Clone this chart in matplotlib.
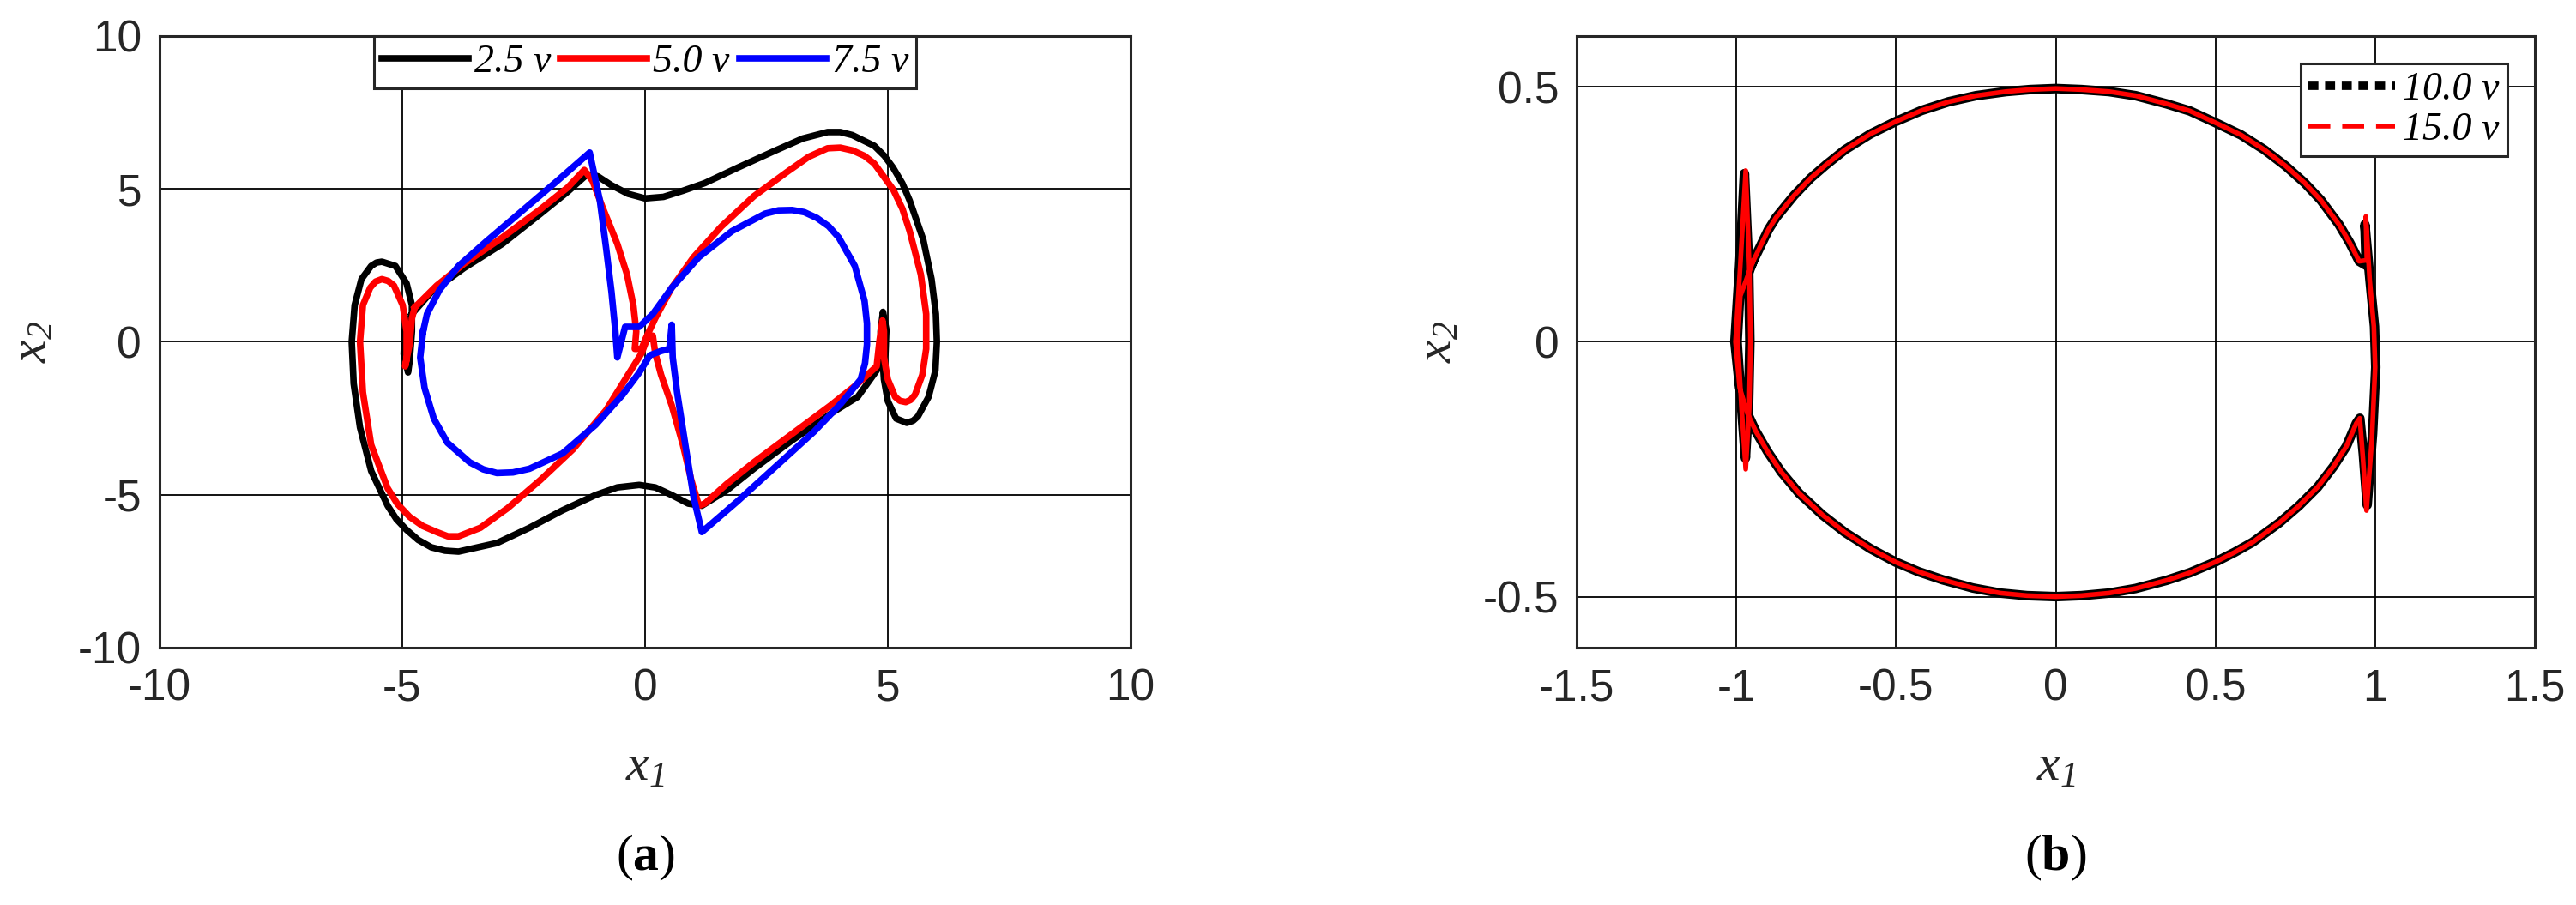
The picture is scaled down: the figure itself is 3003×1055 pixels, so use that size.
import matplotlib
matplotlib.use("Agg")
from matplotlib import pyplot as plt
from matplotlib.lines import Line2D

plt.rcParams["font.family"] = "Liberation Sans"
plt.rcParams["axes.unicode_minus"] = False
plt.rcParams["lines.solid_joinstyle"] = "round"
plt.rcParams["mathtext.fontset"] = "custom"
plt.rcParams["mathtext.rm"] = "Liberation Serif:italic"
plt.rcParams["mathtext.it"] = "Liberation Serif:italic"
plt.rcParams["mathtext.bf"] = "Liberation Serif:bold"
plt.rcParams["mathtext.sf"] = "Liberation Serif"

# ---- (a) phase portraits (x1, x2) ----
pts_25 = [(-4.80, 0.91), (-4.40, 1.63), (-3.73, 2.41), (-2.94, 3.20), (-2.15, 4.19),
          (-1.59, 4.91), (-1.19, 5.48), (-0.97, 5.41), (-0.69, 5.12), (-0.35, 4.84),
          (0.00, 4.69), (0.38, 4.74), (0.78, 4.94), (1.23, 5.19), (1.90, 5.69),
          (2.69, 6.26), (3.25, 6.65), (3.76, 6.86), (4.02, 6.86), (4.27, 6.76),
          (4.72, 6.41), (4.93, 6.08), (5.11, 5.69), (5.30, 5.18), (5.45, 4.62),
          (5.73, 3.34), (5.90, 2.05), (5.99, 0.91), (6.01, 0.00), (5.98, -0.94),
          (5.84, -1.80), (5.62, -2.44), (5.52, -2.58), (5.39, -2.65), (5.17, -2.51),
          (5.00, -1.94), (4.92, -1.23), (4.89, -0.51), (4.85, 0.34), (4.90, 0.98),
          (4.97, 0.40), (4.95, -0.40), (4.77, -0.94), (4.38, -1.80), (3.87, -2.30),
          (3.03, -3.22), (2.24, -4.15), (1.68, -4.86), (1.17, -5.36), (0.89, -5.29),
          (0.55, -5.01), (0.21, -4.76), (-0.12, -4.68), (-0.57, -4.76), (-1.02, -5.01),
          (-1.70, -5.51), (-2.38, -6.08), (-3.05, -6.58), (-3.84, -6.86), (-4.12, -6.83),
          (-4.40, -6.72), (-4.67, -6.48), (-4.91, -6.15), (-5.12, -5.80), (-5.30, -5.36),
          (-5.64, -4.22), (-5.87, -2.80), (-6.00, -1.37), (-6.04, 0.00), (-5.98, 1.20),
          (-5.84, 2.05), (-5.64, 2.48), (-5.53, 2.59), (-5.42, 2.62), (-5.14, 2.48),
          (-4.91, 1.91), (-4.80, 1.20), (-4.80, 0.34), (-4.85, -0.66), (-4.88, -1.00),
          (-4.97, -0.40), (-4.95, 0.40), (-4.80, 0.91)]

pts_50 = [(-4.74, 1.13), (-4.29, 1.84), (-3.73, 2.55), (-2.94, 3.41), (-2.15, 4.34),
          (-1.59, 5.05), (-1.25, 5.62), (-1.08, 5.26), (-0.86, 4.34), (-0.57, 3.20),
          (-0.37, 2.20), (-0.24, 1.20), (-0.18, 0.34), (-0.21, -0.23), (-0.07, -0.23),
          (0.00, 0.06), (0.21, 0.77), (0.55, 1.77), (1.00, 2.77), (1.57, 3.77),
          (2.24, 4.76), (2.92, 5.55), (3.37, 6.05), (3.76, 6.33), (4.02, 6.35),
          (4.27, 6.26), (4.52, 6.08), (4.72, 5.83), (5.11, 4.98), (5.30, 4.35),
          (5.45, 3.62), (5.68, 2.20), (5.79, 0.91), (5.79, -0.23), (5.71, -1.08),
          (5.56, -1.73), (5.47, -1.90), (5.37, -1.97), (5.25, -1.93), (5.15, -1.80),
          (5.00, -1.23), (4.92, -0.51), (4.92, 0.34), (4.89, 0.70), (4.83, 0.06),
          (4.77, -0.80), (4.38, -1.37), (3.82, -2.08), (3.03, -3.01), (2.24, -3.94),
          (1.68, -4.65), (1.23, -5.29), (1.11, -5.36), (0.95, -4.51), (0.78, -3.37),
          (0.55, -2.08), (0.33, -1.08), (0.21, -0.37), (0.16, 0.20), (0.05, 0.13),
          (-0.07, -0.37), (-0.35, -1.08), (-0.80, -2.23), (-1.48, -3.51), (-2.15, -4.51),
          (-2.83, -5.44), (-3.39, -6.08), (-3.84, -6.36), (-4.06, -6.36), (-4.29, -6.22),
          (-4.58, -6.02), (-4.85, -5.72), (-5.10, -5.30), (-5.30, -4.79), (-5.64, -3.37),
          (-5.81, -1.65), (-5.87, 0.00), (-5.81, 1.20), (-5.66, 1.77), (-5.55, 1.97),
          (-5.42, 2.05), (-5.29, 1.99), (-5.17, 1.84), (-4.99, 1.20), (-4.91, 0.34),
          (-4.91, -0.58), (-4.94, -0.80), (-4.85, -0.09), (-4.80, 0.77), (-4.74, 1.13)]

pts_75 = [(-4.57, 0.34), (-4.63, -0.51), (-4.54, -1.51), (-4.35, -2.51), (-4.07, -3.30),
          (-3.61, -3.94), (-3.33, -4.17), (-3.05, -4.29), (-2.72, -4.27), (-2.38, -4.15),
          (-1.70, -3.65), (-1.02, -2.72), (-0.46, -1.73), (-0.12, -1.01), (0.10, -0.44),
          (0.33, -0.30), (0.50, -0.23), (0.55, 0.56), (0.57, -0.51), (0.66, -1.65),
          (0.83, -3.37), (1.00, -5.08), (1.17, -6.22), (1.90, -5.22), (2.69, -4.08),
          (3.48, -2.94), (4.04, -2.01), (4.44, -1.23), (4.53, -0.70), (4.57, -0.09),
          (4.57, 0.60), (4.52, 1.34), (4.32, 2.48), (3.99, 3.41), (3.78, 3.78),
          (3.54, 4.05), (3.28, 4.24), (3.03, 4.31), (2.75, 4.30), (2.47, 4.19),
          (1.79, 3.62), (1.11, 2.77), (0.55, 1.77), (0.16, 0.91), (-0.12, 0.49),
          (-0.41, 0.49), (-0.57, -0.51), (-0.61, 0.34), (-0.69, 1.63), (-0.80, 3.05),
          (-0.93, 4.62), (-1.14, 6.19), (-1.81, 5.26), (-2.60, 4.19), (-3.28, 3.27),
          (-3.84, 2.48), (-4.23, 1.70), (-4.49, 0.91), (-4.57, 0.34)]

labels_a = ["2.5 v", "5.0 v", "7.5 v"]

# ---- (b) phase portraits ----
upper_arc = [(-0.948, 0.158), (-0.900, 0.220), (-0.876, 0.244), (-0.820, 0.287),
             (-0.768, 0.321), (-0.720, 0.347), (-0.660, 0.377), (-0.580, 0.408),
             (-0.502, 0.432), (-0.420, 0.454), (-0.336, 0.471), (-0.250, 0.483),
             (-0.156, 0.491), (-0.080, 0.495), (0.000, 0.497), (0.080, 0.495),
             (0.167, 0.491), (0.250, 0.483), (0.347, 0.467), (0.420, 0.453),
             (0.500, 0.430), (0.580, 0.406), (0.653, 0.377), (0.720, 0.345),
             (0.779, 0.312), (0.830, 0.278), (0.887, 0.230), (0.920, 0.195),
             (0.950, 0.158)]
lower_arc = [(0.941, -0.160), (0.910, -0.205), (0.869, -0.245), (0.820, -0.285),
             (0.761, -0.322), (0.700, -0.355), (0.617, -0.393), (0.560, -0.413),
             (0.500, -0.432), (0.420, -0.453), (0.347, -0.468), (0.250, -0.484),
             (0.167, -0.493), (0.080, -0.498), (0.000, -0.500), (-0.090, -0.498),
             (-0.174, -0.493), (-0.260, -0.483), (-0.354, -0.467), (-0.430, -0.451),
             (-0.502, -0.432), (-0.580, -0.406), (-0.660, -0.374), (-0.730, -0.340),
             (-0.804, -0.297), (-0.860, -0.255), (-0.903, -0.215), (-0.940, -0.175),
             (-0.966, -0.140)]

# thin vertical lobes near x1 = +/-0.97
right_side_10 = [(0.972, 0.150), (0.968, 0.230), (0.984, 0.120), (0.998, 0.030),
                 (1.002, -0.050), (0.992, -0.180), (0.975, -0.320), (0.963, -0.220),
                 (0.952, -0.150)]
left_side_10 = [(-0.990, -0.090), (-1.005, 0.000), (-0.990, 0.150), (-0.975, 0.330),
                (-0.962, 0.150), (-0.958, 0.000), (-0.962, -0.120), (-0.972, -0.228),
                (-0.985, -0.120), (-0.998, 0.000), (-0.990, 0.090), (-0.948, 0.158)]

right_side_15 = [(0.974, 0.160), (0.971, 0.246), (0.983, 0.120), (0.996, 0.030),
                 (1.000, -0.050), (0.990, -0.190), (0.973, -0.331), (0.962, -0.230),
                 (0.952, -0.150)]
left_side_15 = [(-0.990, -0.090), (-1.003, 0.000), (-0.988, 0.150), (-0.971, 0.336),
                (-0.960, 0.150), (-0.956, 0.000), (-0.960, -0.130), (-0.971, -0.250),
                (-0.984, -0.130), (-0.996, 0.000), (-0.988, 0.090), (-0.948, 0.158)]

pts_10 = upper_arc + right_side_10 + lower_arc + left_side_10
pts_15 = upper_arc + right_side_15 + lower_arc + left_side_15

labels_b = ["10.0 v", "15.0 v"]

ticks_a = [-10, -5, 0, 5, 10]
xticks_b = [-1.5, -1, -0.5, 0, 0.5, 1, 1.5]
xticklabels_b = ["-1.5", "-1", "-0.5", "0", "0.5", "1", "1.5"]
yticks_b = [-0.5, 0, 0.5]
yticklabels_b = ["-0.5", "0", "0.5"]

edge = "#262626"
leg_font = {"family": "Liberation Serif", "style": "italic", "size": 33}


def xy(pts):
    return [p[0] for p in pts], [p[1] for p in pts]


def style_axes(ax):
    ax.grid(True, color="black", linewidth=1.3)
    ax.set_axisbelow(True)
    for s in ax.spines.values():
        s.set_linewidth(2.2)
        s.set_color(edge)
    ax.tick_params(length=0, labelsize=37, labelcolor=edge)
    ax.tick_params(axis="x", pad=17)
    ax.tick_params(axis="y", pad=15)
    ax.set_xlabel(r"$x_1$", fontsize=43, labelpad=28, color=edge)
    ax.set_ylabel(r"$x_2$", fontsize=43, labelpad=18, color=edge)


fig = plt.figure(figsize=(30.03, 10.55), dpi=100)
ax1 = fig.add_axes([0.0619, 0.2844, 0.3770, 0.6758])
ax2 = fig.add_axes([0.6121, 0.2844, 0.3719, 0.6758])

# (a)
ax1.plot(*xy(pts_25), color="black", lw=5.5, label=labels_a[0])
ax1.plot(*xy(pts_50), color="#ff0000", lw=5.5, label=labels_a[1])
ax1.plot(*xy(pts_75), color="#0000ff", lw=5.5, label=labels_a[2])
ax1.set_xlim(-10, 10)
ax1.set_ylim(-10, 10)
ax1.set_xticks(ticks_a)
ax1.set_yticks(ticks_a)
style_axes(ax1)
leg1 = ax1.legend(loc="upper center", ncol=3, borderaxespad=0, prop=leg_font,
                  handlelength=2.2, handletextpad=0.15, columnspacing=0.25,
                  borderpad=0.2, fancybox=False, framealpha=1, edgecolor=edge)
leg1.get_frame().set_linewidth(2.2)

# (b)
ax2.plot(*xy(pts_10), color="black", lw=8)
ax2.plot(*xy(pts_15), color="#ff0000", lw=4)
ax2.set_xlim(-1.5, 1.5)
ax2.set_ylim(-0.6, 0.6)
ax2.set_xticks(xticks_b, xticklabels_b)
ax2.set_yticks(yticks_b, yticklabels_b)
style_axes(ax2)
handles_b = [Line2D([], [], color="black", lw=7, dashes=(1.2, 0.8)),
             Line2D([], [], color="#ff0000", lw=4, dashes=(4.6, 2.5))]
leg2 = ax2.legend(handles_b, labels_b, loc="upper right", borderaxespad=0.7,
                  prop=leg_font, handlelength=2.2, handletextpad=0.2,
                  labelspacing=0.1, borderpad=0.2, fancybox=False,
                  framealpha=1, edgecolor=edge)
leg2.get_frame().set_linewidth(2.2)

# panel captions
fig.text(0.2505, 0.052, r"$\mathsf{(}\mathbf{a}\mathsf{)}$", ha="center", va="center", fontsize=43)
fig.text(0.7980, 0.052, r"$\mathsf{(}\mathbf{b}\mathsf{)}$", ha="center", va="center", fontsize=43)

fig.savefig("out.png", dpi=100)
